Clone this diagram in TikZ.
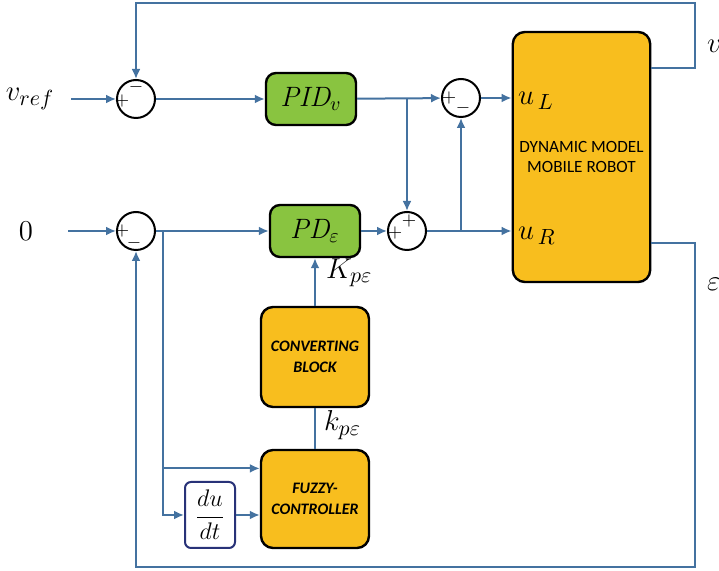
\documentclass[tikz,border=0pt]{standalone}
\usepackage{fontspec}
\newfontfamily\blockfont{Carlito}
\usepackage{tikz}
\usetikzlibrary{positioning,shapes,arrows,arrows.meta}

\definecolor{wireblue}{RGB}{68,114,160}
\definecolor{pidgreen}{RGB}{137,196,64}
\definecolor{blockorange}{RGB}{248,190,30}
\definecolor{derivnavy}{RGB}{40,50,120}

\begin{document}
\begin{tikzpicture}[x=0.5pt,y=-0.5pt,
        >={Latex[length=5pt,width=4.5pt]},
        wire/.style={draw=wireblue, line width=1pt},
        sumnode/.style={circle, draw=black, line width=1pt, minimum size=19pt, inner sep=0pt},
        sign/.style={inner sep=0pt, font=\fontsize{9}{9}\selectfont},
        pidbox/.style={draw=black, line width=1.2pt, rounded corners=5pt, fill=pidgreen,
            minimum width=45pt, minimum height=26pt, font=\fontsize{14}{16}\selectfont},
        fuzzbox/.style={draw=black, line width=1.2pt, rounded corners=6pt, fill=blockorange,
            minimum width=54pt, align=center, font=\blockfont\bfseries\itshape\fontsize{8}{10.5}\selectfont},
        lbl/.style={font=\fontsize{15}{18}\selectfont}
    ]
    \useasboundingbox (0,0) rectangle (719,571);

    % summing junctions and controllers
    \node[sumnode] (sumV) at (136,99) {};
    \node[sumnode] (sumE) at (136,231) {};
    \node[pidbox] (pidv) at (311,99) {$\mathit{PID}_v$};
    \node[pidbox] (pde) at (315,231) {$\mathit{PD}_\varepsilon$};
    \node[sumnode] (sumL) at (461,98) {};
    \node[sumnode] (sumR) at (407,231) {};

    \node[sign] at ([xshift=3pt,yshift=-1pt]sumV.west) {$+$};
    \node[sign] at ([yshift=-4pt]sumV.north) {$-$};
    \node[sign] at ([xshift=3pt]sumE.west) {$+$};
    \node[sign] at ([xshift=-1pt,yshift=4pt]sumE.south) {$-$};
    \node[sign] at ([xshift=4pt]sumL.west) {$+$};
    \node[sign] at ([xshift=1pt,yshift=5pt]sumL.south) {$-$};
    \node[sign] at ([xshift=4pt,yshift=-1pt]sumR.west) {$+$};
    \node[sign] at ([xshift=1pt,yshift=-5pt]sumR.north) {$+$};

    % plant
    \node[draw=black, line width=1.2pt, rounded corners=6pt, fill=blockorange,
        minimum width=67.5pt, minimum height=125pt, align=center,
        font=\blockfont\fontsize{8.6}{10}\selectfont] (robot) at (581.5,157)
        {DYNAMIC MODEL\\MOBILE ROBOT};
    \node[lbl, anchor=west] (uL) at (511,101) {$u_{\,L}$};
    \node[lbl, anchor=west] (uR) at (511,236) {$u_{\,R}$};

    % gain scheduling
    \node[fuzzbox, minimum height=50pt] (conv) at (315,357) {CONVERTING\\BLOCK};
    \node[fuzzbox, minimum height=49pt] (fuzzy) at (315,499) {FUZZY-\\CONTROLLER};
    \node[draw=derivnavy, line width=1pt, rounded corners=3pt, fill=white,
        minimum width=25pt, minimum height=33pt, inner sep=1pt,
        font=\fontsize{12}{14}\selectfont] (deriv) at (210,515) {$\displaystyle\frac{du}{dt}$};

    % signal labels
    \node[lbl] (vref) at (30,99) {$v_{ref}$};
    \node[lbl] (zero) at (26,231) {$0$};
    \node[lbl, anchor=west] (vout) at (700,46) {$v$};
    \node[lbl, anchor=west] (eout) at (700,284) {$\varepsilon$};
    \node[lbl, anchor=west] (Kp) at (319,273) {$K_{p\varepsilon}$};
    \node[lbl, anchor=west] (kp) at (317,425) {$k_{p\varepsilon}$};

    \coordinate (b3) at (163,231);
    \coordinate (vc) at (695,3);
    \coordinate (ec) at (695,567);

    % connectors
    \draw[wire,->,shorten <=5pt] (vref) -- (sumV);
    \draw[wire,->,shorten <=14pt] (zero) -- (sumE);
    \draw[wire,->] (sumV) -- (pidv);
    \draw[wire,->] (sumE) -- (pde);
    \draw[wire,->] (pidv) -- (sumL);
    \draw[wire,->] (pidv -| sumR) -- (sumR);
    \draw[wire,->] (pde) -- (sumR);
    \draw[wire,->] (sumR) -- (robot.west |- sumR);
    \draw[wire,->] (sumL |- sumR) -- (sumL);
    \draw[wire,->] (sumL) -- (robot.west |- sumL);
    \draw[wire,->] (conv) -- (pde);
    \draw[wire] (fuzzy) -- (conv);
    \draw[wire,->] (b3) |- (fuzzy.151);
    \draw[wire,->] (b3) |- (deriv);
    \draw[wire,->] (deriv) -- (deriv -| fuzzy.west);
    \draw[wire,->] ([yshift=44.5pt]robot.east) -| (vc) -| (sumV);
    \draw[wire,->] ([yshift=-43pt]robot.east) -| (ec) -| (sumE);
\end{tikzpicture}
\end{document}
